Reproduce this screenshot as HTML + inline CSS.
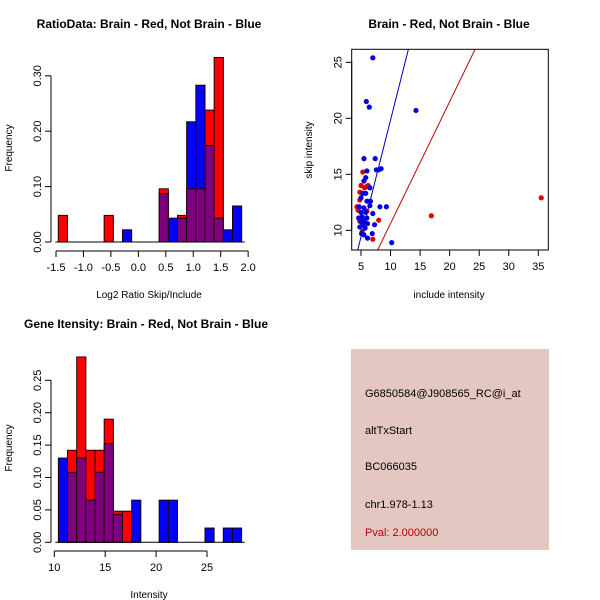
<!DOCTYPE html>
<html><head><meta charset="utf-8"><style>
body{margin:0;background:#fff}
svg{display:block;font-family:"Liberation Sans",sans-serif}
</style></head><body>
<svg id="c" width="600" height="600" xmlns="http://www.w3.org/2000/svg">
<rect width="600" height="600" fill="#fff"/>
<g id="p1"></g>
<g id="p2"></g>
<g id="p3"></g>
<g>
<rect x="351" y="349" width="198" height="201" fill="#e5c7c1"/>
<g font-size="11" fill="#000">
<text x="365" y="397">G6850584@J908565_RC@i_at</text>
<text x="365" y="434">altTxStart</text>
<text x="365" y="470">BC066035</text>
<text x="365" y="508">chr1.978-1.13</text>
<text x="365" y="536" fill="#b00000">Pval: 2.000000</text>
</g></g>
</svg>
<script>
// Panel 1 data
const ratioBinStart=-1.458, ratioBinWidth=0.167;
const ratioRed=[0.048,0,0,0,0,0.048,0,0,0,0,0,0.096,0,0.048,0.096,0.096,0.238,0.333,0,0];
const ratioBlue=[0,0,0,0,0,0,0,0.022,0,0,0,0.087,0.043,0.043,0.217,0.283,0.174,0.043,0.022,0.065];
const ratioXTicks=[-1.5,-1.0,-0.5,0.0,0.5,1.0,1.5,2.0];
const ratioYTicks=[0,0.1,0.2,0.3];
// Panel 2 data
const blueX=[7.0,5.9,6.4,14.3,5.5,7.4,6.0,7.6,8.0,8.4,5.5,5.8,6.5,5.3,5.8,5.0,6.0,6.6,6.5,8.2,9.3,4.7,5.5,5.0,5.8,7.0,4.6,5.2,6.0,5.5,6.1,7.3,4.8,5.3,5.1,5.5,6.9,6.1,10.2,5.0,5.7];
const blueY=[25.4,21.5,21.0,20.7,16.4,16.4,15.3,15.4,15.4,15.5,14.4,14.7,13.8,13.3,13.3,12.9,12.6,12.6,12.2,12.1,12.1,12.1,12.0,11.6,11.6,11.5,11.1,11.2,11.1,10.8,10.6,10.5,10.3,10.5,9.7,9.6,9.7,9.3,8.9,10.8,10.2];
const redX=[5.3,5.0,5.9,6.2,4.8,4.8,4.3,4.5,6.0,4.8,8.0,5.2,7.0,16.9,35.5,5.6];
const redY=[15.2,14.0,13.9,14.0,13.4,12.7,12.1,11.8,11.7,10.8,10.9,9.9,9.2,11.3,12.9,13.8];
const blueLine=[-1.05,2.09]; // intercept, slope
const redLine=[-0.26,1.087];
const scatXTicks=[5,10,15,20,25,30,35];
const scatYTicks=[10,15,20,25];
// Panel 3 data
const geneBinStart=10.4, geneBinWidth=0.9;
const geneRed=[0,0.142,0.286,0.142,0.142,0.19,0.048,0.048,0,0,0,0,0,0,0,0,0,0,0,0];
const geneBlue=[0.13,0.108,0.13,0.065,0.108,0.152,0.043,0,0.065,0,0,0.065,0.065,0,0,0,0.022,0,0.022,0.022];
const geneXTicks=[10,15,20,25];
const geneYTicks=[0,0.05,0.1,0.15,0.2,0.25];

const NS='http://www.w3.org/2000/svg';
function mk(p,t,a,txt){const e=document.createElementNS(NS,t);for(const k in a)e.setAttribute(k,a[k]);if(txt!==undefined)e.textContent=txt;p.appendChild(e);return e;}

function hist(g,o){
  const sx=v=>o.x0+(v-o.xv0)*o.xs, sy=v=>o.y0-v*o.ys;
  for(let i=0;i<o.red.length;i++){
    const a=o.bs+i*o.bw,b=a+o.bw,r=o.red[i],bl=o.blue[i];
    const hi=Math.max(r,bl),lo=Math.min(r,bl);
    if(hi>0){const e=mk(g,'rect',{x:sx(a),y:sy(hi),width:sx(b)-sx(a),height:sy(0)-sy(hi),fill:r>=bl?'#ff0000':'#0000ff',stroke:'#200000','stroke-width':1});
      
      }
    if(lo>0){const e=mk(g,'rect',{x:sx(a),y:sy(lo),width:sx(b)-sx(a),height:sy(0)-sy(lo),fill:'#7f007f',stroke:'#200000','stroke-width':1});
      
      }
  }
  const bl=mk(g,'line',{x1:sx(o.bs)-3,x2:sx(o.bs+o.bw*o.red.length)+3,y1:sy(0),y2:sy(0),stroke:'#000'});
  
  
  axes(g,o,sx,sy);
}
function axes(g,o,sx,sy){
  const xt=o.xt,yt=o.yt;
  const xa=mk(g,'g',{});
  
  
  mk(xa,'line',{x1:sx(xt[0]),x2:sx(xt[xt.length-1]),y1:o.xay,y2:o.xay,stroke:'#000'});
  xt.forEach(v=>{mk(xa,'line',{x1:sx(v),x2:sx(v),y1:o.xay,y2:o.xay+6,stroke:'#000'});
    const t=mk(xa,'text',{x:sx(v),y:o.xay+20,'text-anchor':'middle','font-size':11},o.xf(v));
    
    });
  const ya=mk(g,'g',{});
  
  
  mk(ya,'line',{x1:o.yax,x2:o.yax,y1:sy(yt[0]),y2:sy(yt[yt.length-1]),stroke:'#000'});
  yt.forEach(v=>{mk(ya,'line',{x1:o.yax,x2:o.yax-6,y1:sy(v),y2:sy(v),stroke:'#000'});
    const t=mk(ya,'text',{x:0,y:0,transform:`translate(${o.yax-10},${sy(v)}) rotate(-90)`,'text-anchor':'middle','font-size':11},o.yf(v));
    
    });
  const tt=mk(g,'text',{x:o.tx,y:o.ty,'text-anchor':'middle','font-size':12,'font-weight':'bold'},o.title);
  
  
  const xl=mk(g,'text',{x:o.xlx,y:o.xly,'text-anchor':'middle','font-size':10},o.xlab);
  
  
  const yl=mk(g,'text',{x:0,y:0,transform:`translate(${o.ylx},${o.yly}) rotate(-90)`,'text-anchor':'middle','font-size':10},o.ylab);
  
  
}
hist(document.getElementById('p1'),{x0:56,xv0:-1.5,xs:54.9,y0:242,ys:554,bs:ratioBinStart,bw:ratioBinWidth,red:ratioRed,blue:ratioBlue,
  xt:ratioXTicks,yt:ratioYTicks,xay:251,yax:51,xf:v=>v.toFixed(1),yf:v=>v.toFixed(2),
  title:'RatioData: Brain - Red, Not Brain - Blue',tx:149,ty:28,xlab:'Log2 Ratio Skip/Include',xlx:149,xly:298,ylab:'Frequency',ylx:12,yly:148});
hist(document.getElementById('p3'),{x0:54.3,xv0:10,xs:10.18,y0:542.3,ys:648,bs:geneBinStart,bw:geneBinWidth,red:geneRed,blue:geneBlue,
  xt:geneXTicks,yt:geneYTicks,xay:551,yax:51,xf:v=>String(v),yf:v=>v.toFixed(2),
  title:'Gene Itensity: Brain - Red, Not Brain - Blue',tx:146,ty:328,xlab:'Intensity',xlx:149,xly:598,ylab:'Frequency',ylx:12,yly:448});

// scatter
(function(){
  const g=document.getElementById('p2');
  const L=351.7,R=548.3,T=49.3,B=250;
  const sx=v=>361+(v-5)*5.91, sy=v=>230.3-(v-10)*11.2;
  const cp=mk(g,'clipPath',{id:'clip2'});mk(cp,'rect',{x:L,y:T,width:R-L,height:B-T});
  const ln=(ab,col,nm)=>{const x1=3,x2=40;const e=mk(g,'line',{x1:sx(x1),y1:sy(ab[0]+ab[1]*x1),x2:sx(x2),y2:sy(ab[0]+ab[1]*x2),stroke:col,'stroke-width':1,'clip-path':'url(#clip2)'});
    
    };
  redX.forEach((x,i)=>{const c=mk(g,'circle',{cx:sx(x),cy:sy(redY[i]),r:2.6,fill:'#e00000'});
    
    });
  blueX.forEach((x,i)=>{const c=mk(g,'circle',{cx:sx(x),cy:sy(blueY[i]),r:2.6,fill:'#0000e0'});
    
    });
  ln(blueLine,'#0000c0','fit-line-blue');
  ln(redLine,'#c00000','fit-line-red');
  const bx=mk(g,'rect',{x:L,y:T,width:R-L,height:B-T,fill:'none',stroke:'#000'});
  
  
  axes(g,{xt:scatXTicks,yt:scatYTicks,xay:B,yax:L,xf:v=>String(v),yf:v=>String(v),
    title:'Brain - Red, Not Brain - Blue',tx:449,ty:28,xlab:'include intensity',xlx:449,xly:298,ylab:'skip intensity',ylx:312,yly:150},sx,sy);
})();
</script>
</body></html>
